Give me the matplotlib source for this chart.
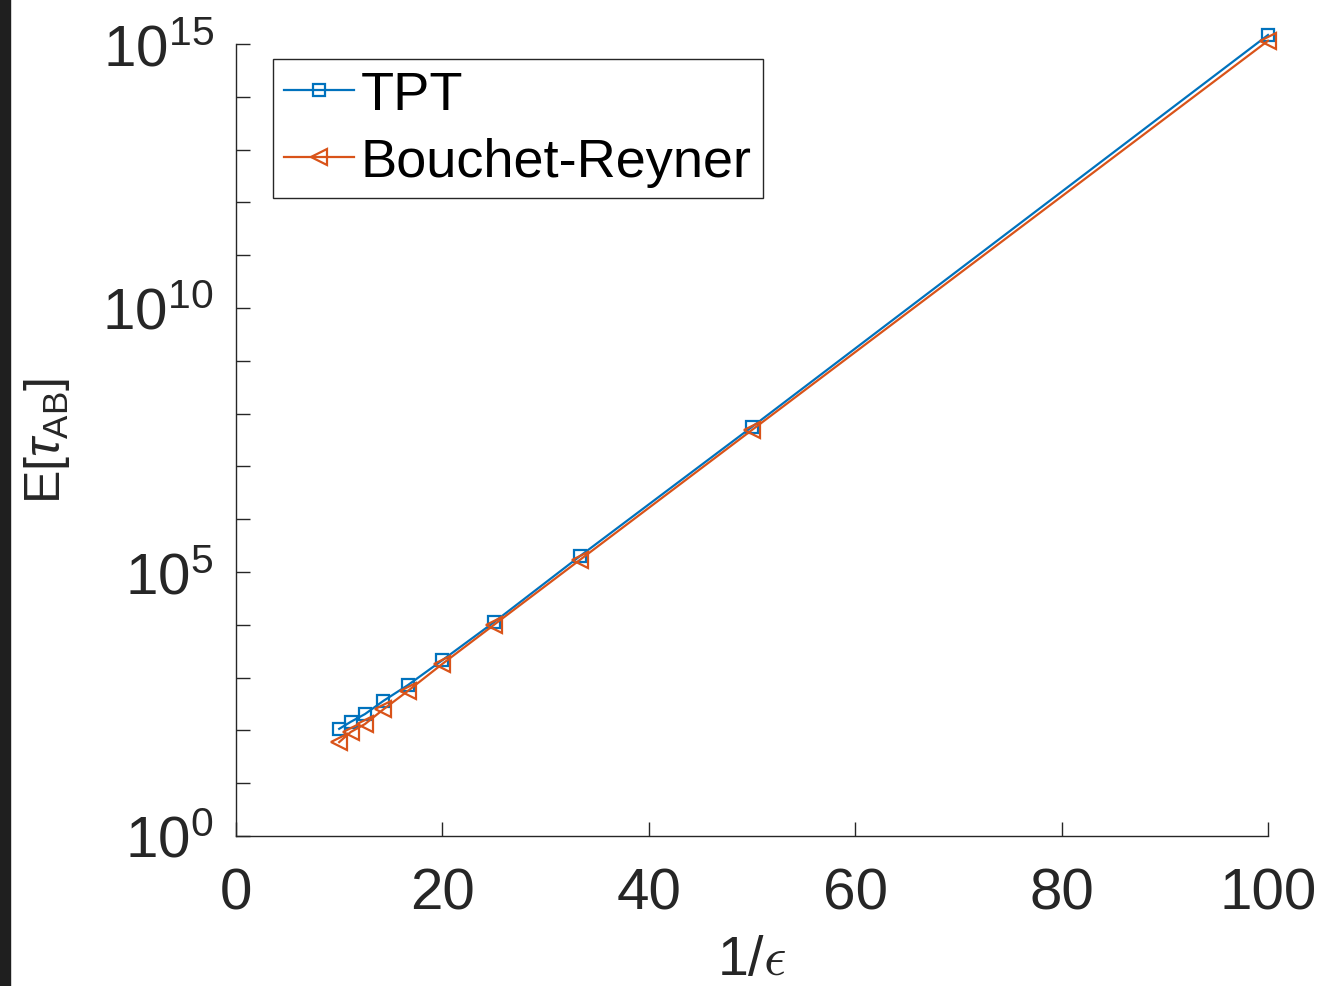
import numpy as np
import matplotlib.pyplot as plt
from matplotlib.patches import Rectangle
from matplotlib.ticker import FixedLocator, FuncFormatter

plt.rcParams['font.family'] = ['Liberation Sans', 'DejaVu Sans']
plt.rcParams['mathtext.fontset'] = 'custom'
plt.rcParams['mathtext.rm'] = 'Liberation Sans'
plt.rcParams['mathtext.it'] = 'Liberation Sans:italic'
plt.rcParams['mathtext.bf'] = 'Liberation Sans:bold'

# 1/eps for eps = 0.10, 0.09, ..., 0.01
inv_eps = [10.0, 11.11, 12.5, 14.29, 16.67, 20.0, 25.0, 33.33, 50.0, 100.0]
tpt = [107, 145, 204, 363, 724, 2140, 1.12e4, 2.0e5, 5.6e7, 1.48e15]
bouchet_reyner = [60, 93, 132, 251, 562, 1820, 1.0e4, 1.7e5, 4.9e7, 1.15e15]

blue = '#0072BD'
orange = '#D95319'
axcol = '#262626'

fig = plt.figure(figsize=(13.31, 9.87), dpi=100)
ax = fig.add_axes([236/1331, 1-837/987, 1032/1331, 792/987])

ax.plot(inv_eps, tpt, '-s', color=blue, lw=1.6, ms=8, mfc='none', mew=1.6,
        label='TPT', clip_on=False)
ax.plot(inv_eps, bouchet_reyner, '-<', color=orange, lw=1.6, ms=12, mfc='none',
        mew=1.6, label='Bouchet-Reyner', clip_on=False)

ax.set_yscale('log')
ax.set_xlim(0, 100)
ax.set_ylim(1, 1e15)
ax.xaxis.set_major_locator(FixedLocator([0, 20, 40, 60, 80, 100]))
ax.yaxis.set_major_locator(FixedLocator([10.0**k for k in range(16)]))
ax.yaxis.set_minor_locator(FixedLocator([]))
ax.yaxis.set_major_formatter(FuncFormatter(
    lambda v, p: r'$\mathregular{10^{%d}}$' % round(np.log10(v))
    if round(np.log10(v)) % 5 == 0 else ''))

for s in ['top', 'right']:
    ax.spines[s].set_visible(False)
for s in ['left', 'bottom']:
    ax.spines[s].set_color(axcol)
    ax.spines[s].set_linewidth(1.0)
ax.tick_params(axis='x', direction='in', length=10, width=1, colors=axcol,
               labelsize=42, pad=22, labelcolor='#262626')
ax.tick_params(axis='y', direction='in', length=10, width=1, colors=axcol,
               labelsize=42, pad=16, labelcolor='#262626')

ax.set_xlabel(r'1/$\epsilon$', fontsize=40, color='#262626', labelpad=10,
              math_fontfamily='cm')
ax.set_ylabel(r'E[$\tau_{\mathrm{AB}}$]', fontsize=36, color='#262626',
              labelpad=22)

leg = ax.legend(loc='upper left', bbox_to_anchor=(273/1331, 1-60/987),
                bbox_transform=fig.transFigure, borderaxespad=0,
                fancybox=False, fontsize=39, handlelength=1.3,
                handletextpad=0.12, labelspacing=0.32, borderpad=0.2,
                numpoints=1, framealpha=1)
leg.get_frame().set_edgecolor(axcol)
leg.get_frame().set_linewidth(1.0)

# dark strip down the left edge
fig.patches.append(Rectangle((0, 0), 10/1331, 1, transform=fig.transFigure,
                             color='#1f1f1f', zorder=10))

fig.savefig('out.png', dpi=100)
